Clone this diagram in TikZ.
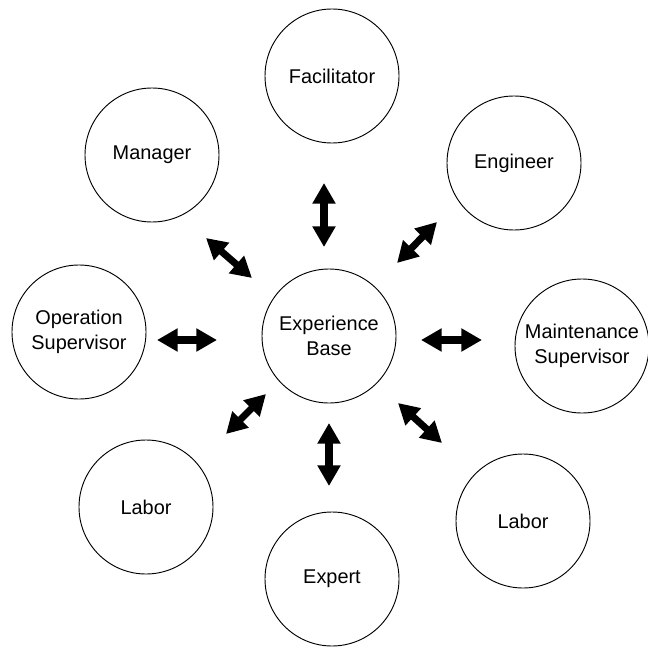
\documentclass[tikz,border=0pt]{standalone}
\usepackage{fontspec}
\setmainfont{Liberation Sans}
\usetikzlibrary{arrows.meta,positioning}

\tikzset{
  role/.style={draw, circle, line width=0.8pt, minimum size=4.02cm, inner sep=0pt,
    align=center, font=\fontsize{17}{21}\selectfont},
  link/.style={line width=6pt,
    {Triangle[width=0.66cm,length=0.62cm]}-{Triangle[width=0.66cm,length=0.62cm]}}
}

\begin{document}
\begin{tikzpicture}[x=0.03cm,y=-0.03cm]
			\useasboundingbox (0,0) rectangle (647,649);
			% the roles round the experience base
			\node[role] (Base) at (329,336) {Experience\\Base};
			\node[role] (Facilitator) at (332,76) {Facilitator};
			\node[role] (Manager) at (152,155) {Manager};
			\node[role] (Engineer) at (514,163) {Engineer};
			\node[role] (OpSupervisor) at (79,332) {Operation\\Supervisor};
			\node[role] (MaintSupervisor) at (582,346) {Maintenance\\Supervisor};
			\node[role] (LaborLeft) at (146,507) {Labor};
			\node[role] (LaborRight) at (523,521) {Labor};
			\node[role] (Expert) at (332,579) {Expert};
			% arrow ends
			\coordinate (FacilitatorA) at (324,183);
			\coordinate (FacilitatorB) at (324,247);
			\coordinate (ManagerA) at (206,238);
			\coordinate (ManagerB) at (252,278);
			\coordinate (EngineerA) at (437,222);
			\coordinate (EngineerB) at (397,263);
			\coordinate (OpSupervisorA) at (157,340);
			\coordinate (OpSupervisorB) at (217,340);
			\coordinate (MaintSupervisorA) at (482,340);
			\coordinate (MaintSupervisorB) at (421,340);
			\coordinate (LaborLeftA) at (226,434);
			\coordinate (LaborLeftB) at (266,394);
			\coordinate (ExpertA) at (329,486);
			\coordinate (ExpertB) at (329,423);
			\coordinate (LaborRightA) at (442,443);
			\coordinate (LaborRightB) at (398,403);
			\foreach \who in {Facilitator,Manager,Engineer,OpSupervisor,MaintSupervisor,LaborLeft,Expert,LaborRight}
				\draw[link] (\who A) -- (\who B);
		\end{tikzpicture}
\end{document}
